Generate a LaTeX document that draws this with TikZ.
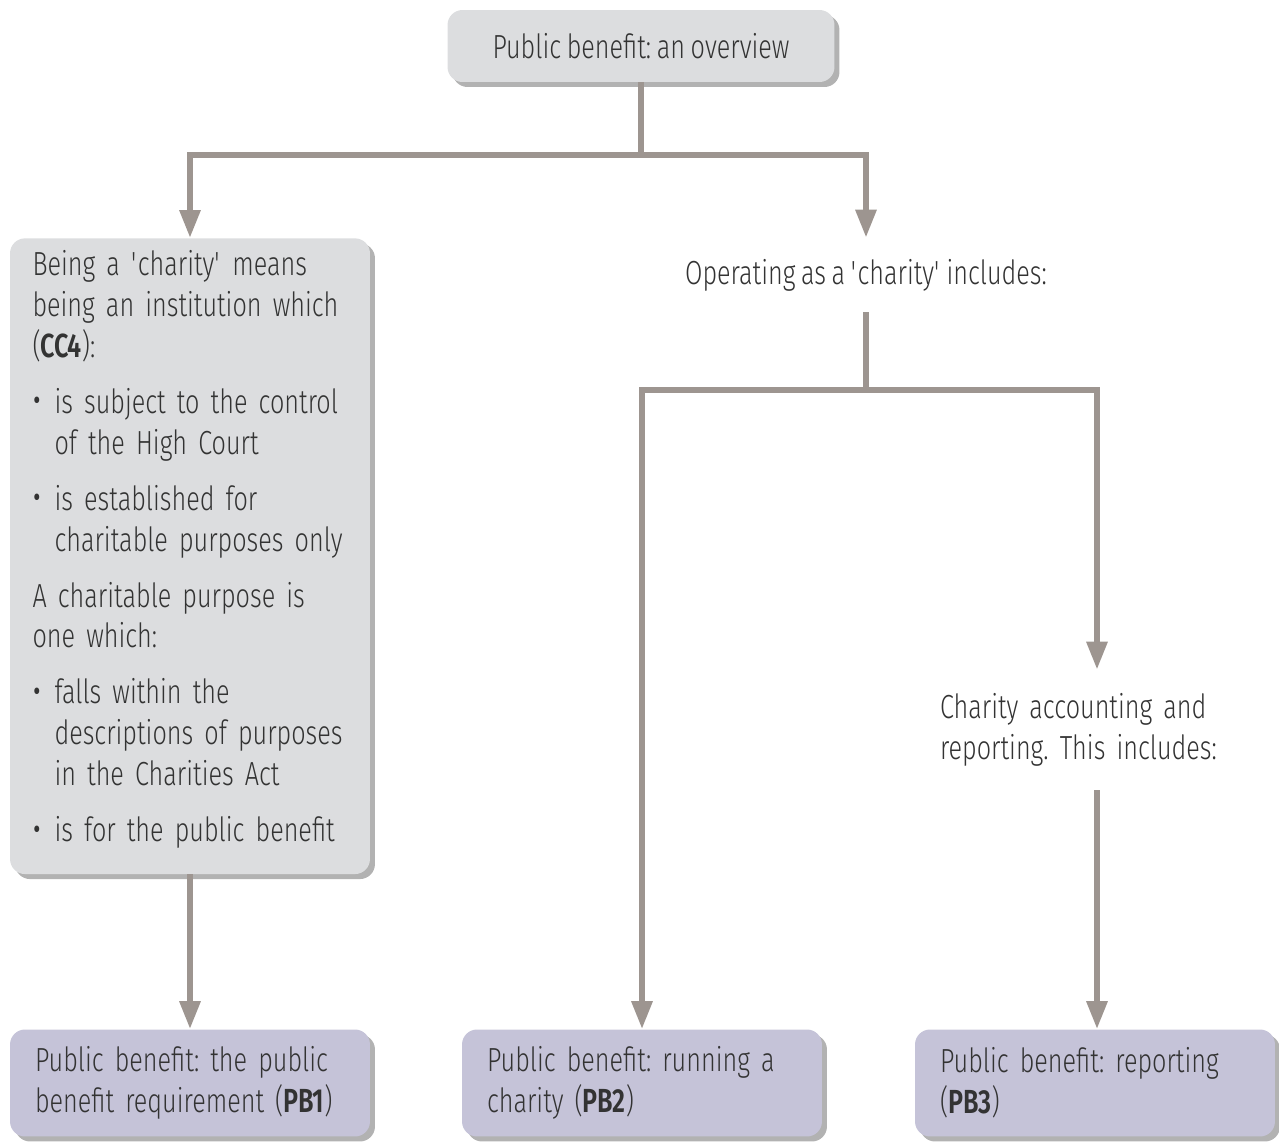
\documentclass[tikz,border=0pt]{standalone}
\usepackage{fontspec}
\setmainfont{Fira Sans Light}[BoldFont={Fira Sans SemiBold}, FakeStretch=0.755, WordSpace=0.8]
\usetikzlibrary{positioning, arrows.meta, shadows}
\frenchspacing
\hyphenpenalty=10000

\definecolor{boxgrey}{RGB}{220,221,223}
\definecolor{boxlilac}{RGB}{197,195,216}
\definecolor{linegrey}{RGB}{157,149,144}
\definecolor{textgrey}{RGB}{51,51,51}

\newcommand{\bitem}[1]{\par\vspace{0.3cm}\hangindent=0.44cm\hangafter=1\noindent\makebox[0.44cm][l]{\fontsize{25}{0}\selectfont\raisebox{-0.06em}{\textbullet}}#1}
\newcommand{\gap}{\par\vspace{0.3cm}\noindent}

\begin{document}
\begin{tikzpicture}[
        x=0.02cm, y=-0.02cm,
        box/.style={rectangle, rounded corners=0.3cm, fill=boxgrey, text=textgrey, font=\fontsize{19}{23.3}\selectfont,
          drop shadow={shadow xshift=0.1cm, shadow yshift=-0.1cm, fill=black, opacity=0.3}},
        topic/.style={box, fill=boxlilac, text width=6.2cm, align=left, inner xsep=0.5cm, minimum height=2.14cm},
        plain/.style={text=textgrey, font=\fontsize{19}{23.3}\selectfont, inner xsep=0pt},
        line/.style={draw=linegrey, line width=0.12cm},
        arrow/.style={line, -{Triangle[width=0.4cm, length=0.56cm]}}
      ]
        \useasboundingbox (0,0) rectangle (1279,1145);

        % Overview
        \node[box, minimum width=7.74cm, minimum height=1.44cm] (overview) at (641,46) {Public benefit: an overview};

        % Being a charity
        \node[box, anchor=north, text width=6.3cm, align=left, inner xsep=0.45cm, inner ysep=0.24cm] (being) at (190,238) {%
          Being a \textquotesingle charity\textquotesingle{} means\\
          being an institution which\\
          (\textbf{CC4}):
          \bitem{is subject to the control\newline of the High Court}
          \bitem{is established for\newline charitable purposes only}
          \gap A charitable purpose is\newline one which:
          \bitem{falls within the\newline descriptions of purposes\newline in the Charities Act}
          \bitem{is for the public benefit}\par\vspace{0.27cm}};

        % Operating as a charity
        \node[plain, minimum height=1.48cm] (operating) at (866,275) {Operating as a \textquotesingle charity\textquotesingle{} includes:};
        \node[plain, text width=6.28cm, align=left, minimum height=2.4cm] (accounting) at (1097,730) {Charity accounting and\\reporting. This includes:};

        % Guidance
        \node[topic] (pbone) at (190,1083) {Public benefit: the public\\benefit requirement (\textbf{PB1})};
        \node[topic] (pbtwo) at (642,1083) {Public benefit: running a\\charity (\textbf{PB2})};
        \node[topic] (pbthree) at (1095,1083) {Public benefit: reporting\\(\textbf{PB3})};

        % Arrows
        \draw[line] (overview.south) -- (overview.south |- 0,155) coordinate (forkone);
        \draw[arrow] (forkone) -| (being.north);
        \draw[arrow] (forkone) -| (operating.north);
        \draw[arrow] (being.south) -- (pbone.north);
        \draw[line] (operating.south) -- (operating.south |- 0,390) coordinate (forktwo);
        \draw[arrow] (forktwo) -| (pbtwo.north);
        \draw[arrow] (forktwo) -| (accounting.north);
        \draw[arrow] (accounting.south) -- (accounting.south |- pbthree.north);
      \end{tikzpicture}
\end{document}
